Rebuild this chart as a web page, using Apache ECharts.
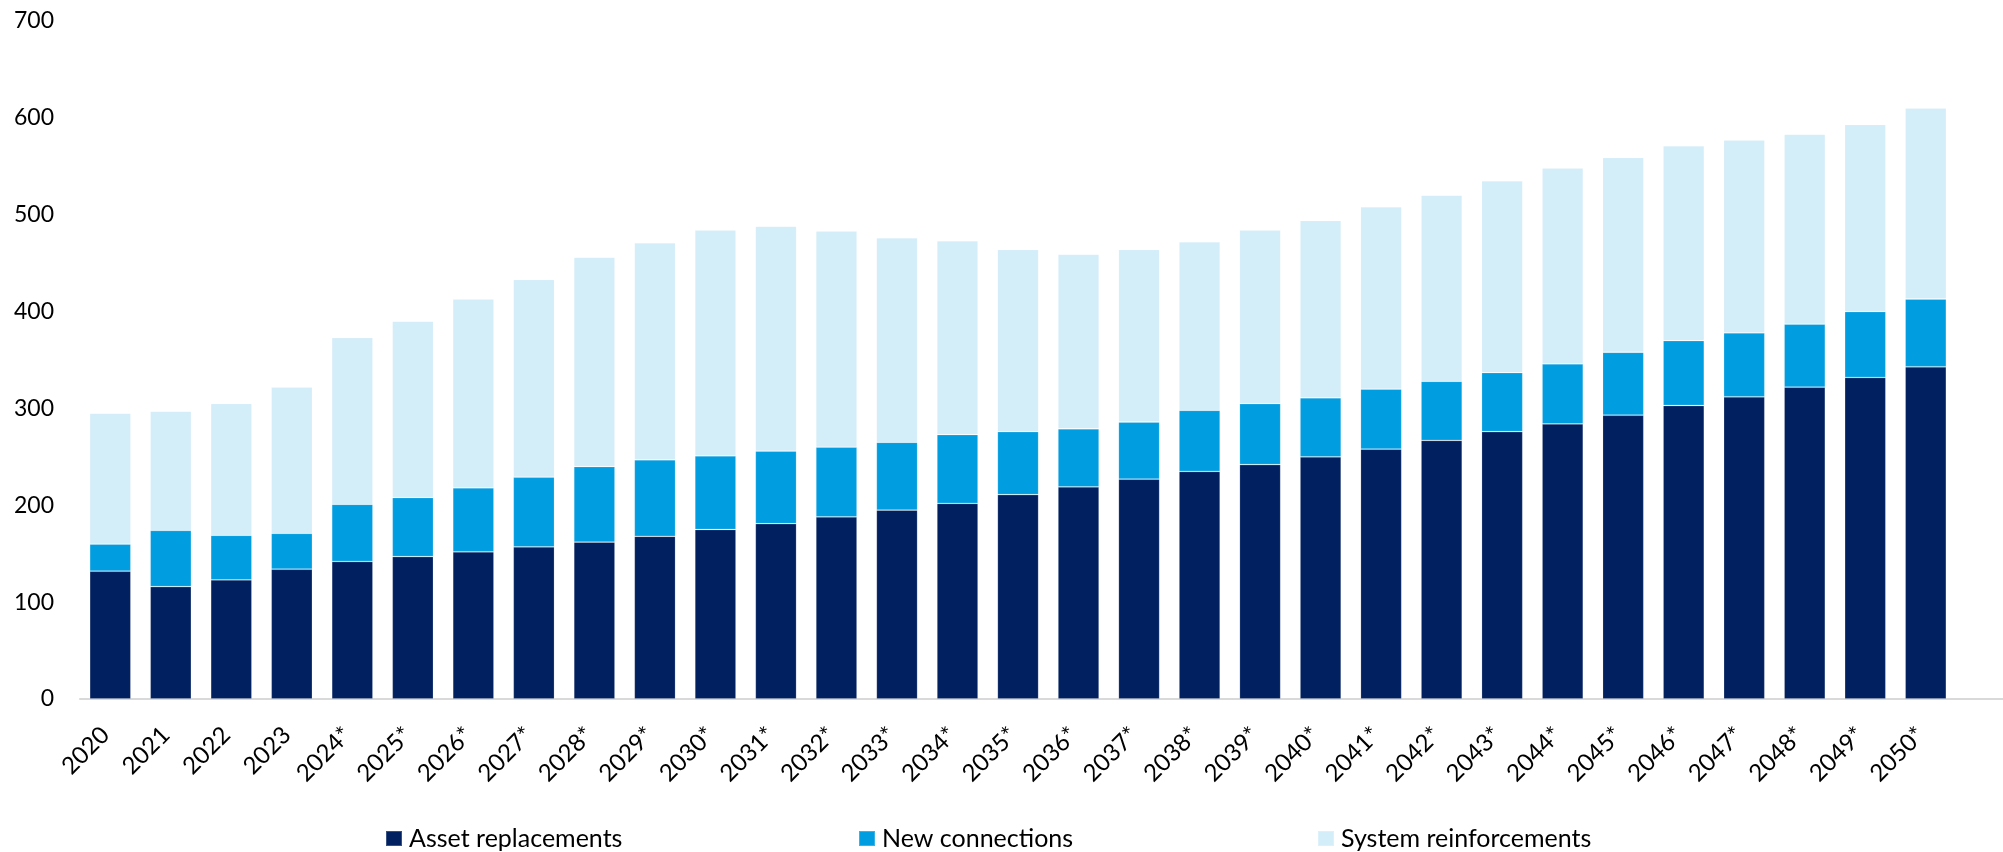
<!DOCTYPE html>
<html>
<head>
<meta charset="utf-8">
<script src="https://cdn.jsdelivr.net/npm/echarts@6/dist/echarts.min.js"></script>
<style>
  html, body { margin: 0; padding: 0; background: #fff; }
  #main { width: 2003px; height: 852px; }
</style>
</head>
<body>
<div id="main"></div>
<script>
var years = ['2020', '2021', '2022', '2023', '2024*', '2025*', '2026*', '2027*', '2028*', '2029*',
  '2030*', '2031*', '2032*', '2033*', '2034*', '2035*', '2036*', '2037*', '2038*', '2039*',
  '2040*', '2041*', '2042*', '2043*', '2044*', '2045*', '2046*', '2047*', '2048*', '2049*', '2050*'];

var assetReplacements = [132, 116, 123, 134, 142, 147, 152, 157, 162, 168,
  175, 181, 188, 195, 202, 211, 219, 227, 235, 242,
  250, 258, 267, 276, 284, 293, 303, 312, 322, 332, 343];

var newConnections = [28, 58, 46, 37, 59, 61, 66, 72, 78, 79,
  76, 75, 72, 70, 71, 65, 60, 59, 63, 63,
  61, 62, 61, 61, 62, 65, 67, 66, 65, 68, 70];

var systemReinforcements = [135, 123, 136, 151, 172, 182, 195, 204, 216, 224,
  233, 232, 223, 211, 200, 188, 180, 178, 174, 179,
  183, 188, 192, 198, 202, 201, 201, 199, 196, 193, 197];

var seriesNames = ['Asset replacements', 'New connections', 'System reinforcements'];
var seriesColors = ['#002060', '#009de0', '#d3edf9'];
var legendLeft = [380, 853, 1312];

var font = 'Lato, "Open Sans", sans-serif';

var chartDom = document.getElementById('main');
var myChart = echarts.init(chartDom, null, { renderer: 'canvas' });

function barSeries(i, values) {
  return {
    name: seriesNames[i],
    type: 'bar',
    stack: 'total',
    barCategoryGap: '32%',
    data: values,
    itemStyle: {
      color: seriesColors[i],
      borderColor: 'rgba(255,255,255,0.22)',
      borderWidth: 0.8
    },
    emphasis: { disabled: true }
  };
}

// one legend per item so each can sit where it does in the original
var legends = seriesNames.map(function (name, i) {
  return {
    left: legendLeft[i],
    top: 821,
    itemWidth: 16,
    itemHeight: 15,
    itemGap: 0,
    icon: 'rect',
    selectedMode: false,
    textStyle: { fontSize: 25, color: '#000', fontFamily: font, padding: [0, 0, 0, 2] },
    data: [name]
  };
});

var option = {
  animation: false,
  textStyle: { fontFamily: font },
  grid: {
    left: 80,
    right: 47,
    top: 21,
    bottom: 153,
    containLabel: false
  },
  legend: legends,
  xAxis: {
    type: 'category',
    data: years,
    axisLine: { lineStyle: { color: '#d9d9d9', width: 2 } },
    axisTick: { show: false },
    axisLabel: {
      rotate: 45,
      margin: 27,
      padding: [0, 7, 0, 0],
      fontSize: 24,
      color: '#000',
      fontFamily: font,
      interval: 0
    }
  },
  yAxis: {
    type: 'value',
    min: 0,
    max: 700,
    interval: 100,
    splitLine: { show: false },
    axisLine: { show: false },
    axisTick: { show: false },
    axisLabel: {
      margin: 26,
      fontSize: 23,
      color: '#000',
      fontFamily: font
    }
  },
  series: [
    barSeries(0, assetReplacements),
    barSeries(1, newConnections),
    barSeries(2, systemReinforcements)
  ]
};

myChart.setOption(option);

// the axis line in the original runs on to the right edge of the picture
var axisY = myChart.convertToPixel({ yAxisIndex: 0 }, 0);
var gridRight = 2003 - 47;
myChart.setOption({
  graphic: [{
    type: 'line',
    shape: { x1: gridRight, y1: axisY, x2: 2003, y2: axisY },
    style: { stroke: '#d9d9d9', lineWidth: 2 },
    silent: true
  }]
});
</script>
</body>
</html>
